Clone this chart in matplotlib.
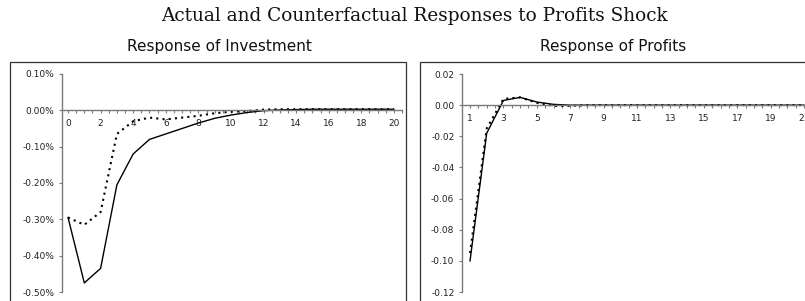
import matplotlib.pyplot as plt
import numpy as np
from matplotlib.patches import Rectangle
from matplotlib.ticker import FuncFormatter, MultipleLocator

# Response of Investment (percent), horizons 0..20
INV_X = np.arange(0, 21)
INV_ACTUAL = [-0.295, -0.475, -0.435, -0.205, -0.12, -0.08, -0.065, -0.05, -0.035, -0.022,
              -0.013, -0.006, -0.001, 0.001, 0.002, 0.003, 0.003, 0.003, 0.003, 0.003, 0.003]
INV_COUNTER = [-0.295, -0.315, -0.28, -0.065, -0.03, -0.02, -0.025, -0.02, -0.015, -0.008,
               -0.004, -0.002, 0.002, 0.003, 0.003, 0.003, 0.003, 0.003, 0.003, 0.003, 0.003]

# Response of Profits, horizons 1..21
PRO_X = np.arange(1, 22)
PRO_ACTUAL = [-0.100, -0.018, 0.003, 0.005, 0.002, 0.0005, 0.0, 0.0, 0.0, 0.0, 0.0,
              0.0, 0.0, 0.0, 0.0, 0.0, 0.0, 0.0, 0.0, 0.0, 0.0]
PRO_COUNTER = [-0.095, -0.015, 0.004, 0.005, 0.0015, -0.0005, -0.0005, 0.0, 0.0, 0.0, 0.0,
               0.0, 0.0, 0.0, 0.0, 0.0, 0.0, 0.0, 0.0, 0.0, 0.0]

TITLE = "Actual and Counterfactual Responses to Profits Shock"
SUBTITLES = ["Response of Investment", "Response of Profits"]

AXIS_GREY = "#7a7a7a"
TICK_FONT = 6.5

plt.rcParams["font.family"] = ["DejaVu Sans"]

fig = plt.figure(figsize=(8.05, 3.01), dpi=100)
W, H = 805.0, 301.0


def px_axes(left, top, right, bottom):
    return fig.add_axes([left / W, 1 - bottom / H, (right - left) / W, (bottom - top) / H])


# outer chart frames
for x0, x1 in [(10, 406), (420, 830)]:
    fig.add_artist(Rectangle((x0 / W, -0.05), (x1 - x0) / W, 1 - 62 / H + 0.05,
                             transform=fig.transFigure, fill=False, lw=0.9, ec="#333333"))

fig.text(414 / W, 1 - 16 / H, TITLE, ha="center", va="center",
         family=["DejaVu Serif"], fontsize=13.3, color="#111111")
fig.text(219 / W, 1 - 46 / H, SUBTITLES[0], ha="center", va="center", fontsize=11,
         color="#111111")
fig.text(613 / W, 1 - 46 / H, SUBTITLES[1], ha="center", va="center", fontsize=11,
         color="#111111")


def style(ax, xlim, ylim, ystep, yfmt, xlabel_start, xmax_label):
    ax.set_xlim(*xlim)
    ax.set_ylim(*ylim)
    for s in ["top", "right"]:
        ax.spines[s].set_visible(False)
    ax.spines["bottom"].set_position(("data", 0))
    ax.spines["bottom"].set_color(AXIS_GREY)
    ax.spines["left"].set_color(AXIS_GREY)
    ax.spines["bottom"].set_linewidth(1.0)
    ax.spines["left"].set_linewidth(1.0)
    ax.yaxis.set_major_locator(MultipleLocator(ystep))
    ax.yaxis.set_major_formatter(FuncFormatter(yfmt))
    ax.set_xticks(np.arange(xlabel_start, xmax_label + 1, 2))
    ax.xaxis.set_minor_locator(MultipleLocator(0.5))
    ax.tick_params(axis="both", which="both", direction="out", length=2.5,
                   width=0.8, color=AXIS_GREY, labelsize=TICK_FONT, labelcolor="#222222",
                   pad=2)
    ax.tick_params(axis="x", which="both", pad=4)
    ax.tick_params(axis="y", pad=3)
    ax.patch.set_visible(False)


ax1 = px_axes(62, 74, 402, 292)
ax1.plot(INV_X, INV_ACTUAL, color="black", lw=1.0)
ax1.plot(INV_X, INV_COUNTER, color="black", lw=1.5, ls=(0, (1, 2)))
style(ax1, (-0.37, 20.5), (-0.50, 0.10), 0.10,
      lambda v, p: f"{v:.2f}%".replace("-0.00", "0.00"), 0, 20)

ax2 = px_axes(462, 74, 462 + (22 - 0.52) * 16.7, 292)
ax2.plot(PRO_X, PRO_ACTUAL, color="black", lw=1.0)
ax2.plot(PRO_X, PRO_COUNTER, color="black", lw=1.5, ls=(0, (1, 2)))
style(ax2, (0.52, 22), (-0.12, 0.02), 0.02,
      lambda v, p: f"{v:.2f}".replace("-0.00", "0.00"), 1, 21)

fig.savefig("out.png", dpi=100)
